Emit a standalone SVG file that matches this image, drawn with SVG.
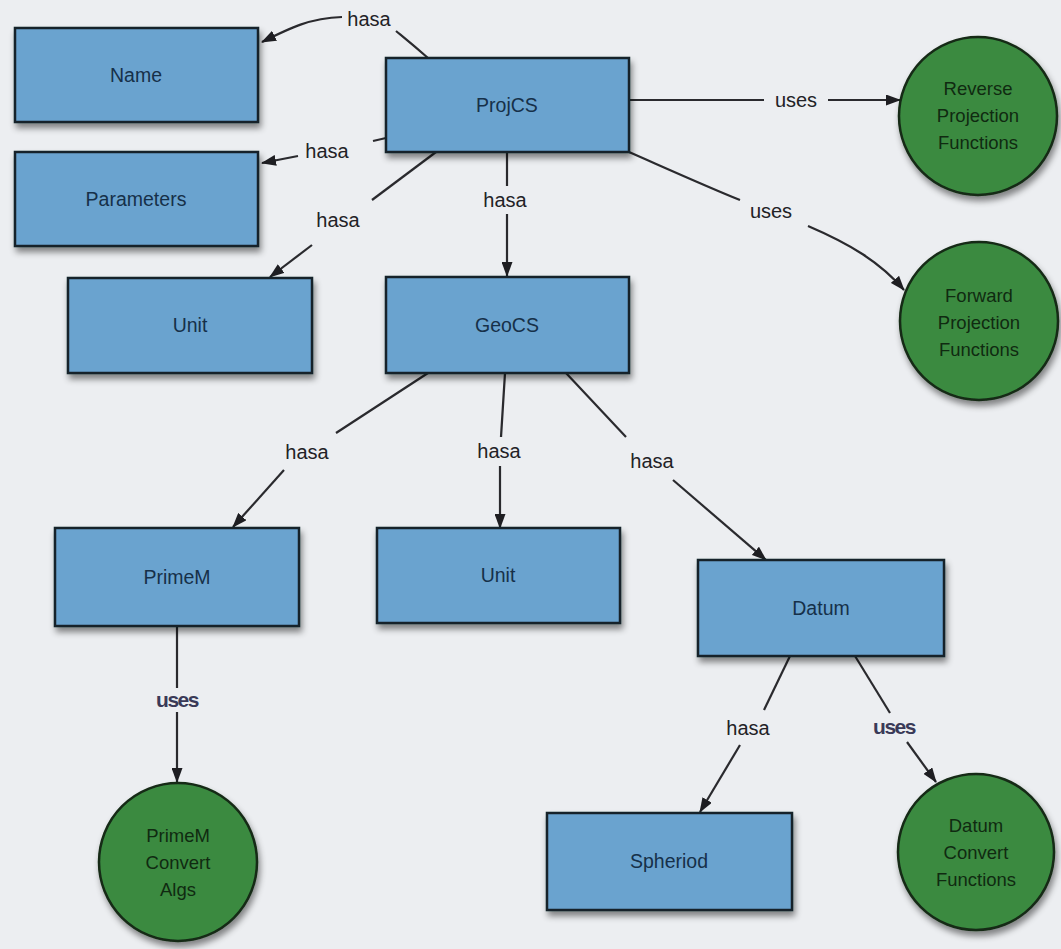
<svg xmlns="http://www.w3.org/2000/svg" width="1061" height="949" viewBox="0 0 1061 949">
  <defs>
    <filter id="shadow" x="-10%" y="-10%" width="125%" height="135%">
      <feDropShadow dx="2" dy="5" stdDeviation="3" flood-color="#000" flood-opacity="0.45"/>
    </filter>
    <marker id="arrow" viewBox="0 0 15 11" refX="14" refY="5.5" markerWidth="15" markerHeight="11" markerUnits="userSpaceOnUse" orient="auto">
      <path d="M0,0 L15,5.5 L0,11 Z" fill="#1e1e22"/>
    </marker>
  </defs>
  <style>
    .box { fill: #6aa3cf; stroke: #16202a; stroke-width: 2.5; filter: url(#shadow); }
    .circ { fill: #3a8a40; stroke: #152a16; stroke-width: 2.5; filter: url(#shadow); }
    .btxt { font-family: "Liberation Sans", Arial, sans-serif; font-size: 19.5px; fill: #163049; text-anchor: middle; dominant-baseline: central; }
    .ctxt { font-family: "Liberation Sans", Arial, sans-serif; font-size: 18.5px; fill: #102a11; text-anchor: middle; }
    .edge { fill: none; stroke: #2a2a2e; stroke-width: 2.2; }
    .lbl { font-family: "Liberation Sans", Arial, sans-serif; font-size: 20px; fill: #222226; text-anchor: middle; dominant-baseline: central; }
    .lblb { font-family: "Liberation Sans", Arial, sans-serif; font-size: 21px; font-weight: bold; fill: #3a3a58; text-anchor: middle; dominant-baseline: central; letter-spacing: -1.5px; }
  </style>

  <rect width="1061" height="949" fill="#eceef1"/>

  <!-- connectors -->
  <g id="connectors">
    <path class="edge" d="M428,58 C412,44 402,36 396,31"/>
    <path class="edge" marker-end="url(#arrow)" d="M342,17 C310,18 290,28 262,42"/>
    <path class="edge" d="M386,138 L373,141"/>
    <path class="edge" marker-end="url(#arrow)" d="M298,156 L262,163"/>
    <path class="edge" d="M436,152 L372,200"/>
    <path class="edge" marker-end="url(#arrow)" d="M312,245 L270,277"/>
    <path class="edge" d="M507,152 L507,186"/>
    <path class="edge" marker-end="url(#arrow)" d="M507,214 L507,276"/>
    <path class="edge" d="M629,100 L764,100"/>
    <path class="edge" marker-end="url(#arrow)" d="M828,100 L900,100"/>
    <path class="edge" d="M629,152 C670,170 710,188 740,200"/>
    <path class="edge" marker-end="url(#arrow)" d="M808,226 C850,244 880,262 904,290"/>
    <path class="edge" d="M428,373 L336,433"/>
    <path class="edge" marker-end="url(#arrow)" d="M284,470 L233,527"/>
    <path class="edge" d="M505,373 L501,437"/>
    <path class="edge" marker-end="url(#arrow)" d="M500,466 L500,528"/>
    <path class="edge" d="M566,373 L626,437"/>
    <path class="edge" marker-end="url(#arrow)" d="M673,480 L766,560"/>
    <path class="edge" marker-end="url(#arrow)" d="M177,626 L177,782"/>
    <path class="edge" d="M790,656 L764,710"/>
    <path class="edge" marker-end="url(#arrow)" d="M740,745 L700,812"/>
    <path class="edge" d="M855,656 L890,713"/>
    <path class="edge" marker-end="url(#arrow)" d="M907,742 L936,782"/>

    <text class="lbl" x="369" y="19">hasa</text>
    <text class="lbl" x="327" y="151">hasa</text>
    <text class="lbl" x="338" y="220">hasa</text>
    <text class="lbl" x="505" y="200">hasa</text>
    <text class="lbl" x="796" y="100">uses</text>
    <text class="lbl" x="771" y="211">uses</text>
    <text class="lbl" x="307" y="452">hasa</text>
    <text class="lbl" x="499" y="451">hasa</text>
    <text class="lbl" x="652" y="461">hasa</text>
    <rect x="150" y="688" width="54" height="24" fill="#eceef1"/>
    <text class="lblb" x="177" y="699">uses</text>
    <text class="lbl" x="748" y="728">hasa</text>
    <text class="lblb" x="894" y="726">uses</text>
  </g>

  <!-- rectangular nodes -->
  <g id="node-name"><rect class="box" x="15" y="28" width="243" height="94"/><text class="btxt" x="136" y="75">Name</text></g>
  <g id="node-parameters"><rect class="box" x="15" y="152" width="243" height="94"/><text class="btxt" x="136" y="199">Parameters</text></g>
  <g id="node-projcs"><rect class="box" x="386" y="58" width="243" height="94"/><text class="btxt" x="507" y="105">ProjCS</text></g>
  <g id="node-unit1"><rect class="box" x="68" y="278" width="244" height="95"/><text class="btxt" x="190" y="325">Unit</text></g>
  <g id="node-geocs"><rect class="box" x="386" y="277" width="243" height="96"/><text class="btxt" x="507" y="325">GeoCS</text></g>
  <g id="node-primem"><rect class="box" x="55" y="528" width="244" height="98"/><text class="btxt" x="177" y="577">PrimeM</text></g>
  <g id="node-unit2"><rect class="box" x="377" y="528" width="243" height="95"/><text class="btxt" x="498" y="575">Unit</text></g>
  <g id="node-datum"><rect class="box" x="698" y="560" width="246" height="96"/><text class="btxt" x="821" y="608">Datum</text></g>
  <g id="node-spheriod"><rect class="box" x="547" y="813" width="245" height="97"/><text class="btxt" x="669" y="861">Spheriod</text></g>

  <!-- circular nodes -->
  <g id="node-reverse"><circle class="circ" cx="978" cy="116" r="79"/>
    <text class="ctxt" x="978" y="95">Reverse</text><text class="ctxt" x="978" y="122">Projection</text><text class="ctxt" x="978" y="149">Functions</text></g>
  <g id="node-forward"><circle class="circ" cx="979" cy="321" r="79"/>
    <text class="ctxt" x="979" y="302">Forward</text><text class="ctxt" x="979" y="329">Projection</text><text class="ctxt" x="979" y="356">Functions</text></g>
  <g id="node-primem-algs"><circle class="circ" cx="178" cy="862" r="79"/>
    <text class="ctxt" x="178" y="842">PrimeM</text><text class="ctxt" x="178" y="869">Convert</text><text class="ctxt" x="178" y="896">Algs</text></g>
  <g id="node-datum-convert"><circle class="circ" cx="976" cy="852" r="78"/>
    <text class="ctxt" x="976" y="832">Datum</text><text class="ctxt" x="976" y="859">Convert</text><text class="ctxt" x="976" y="886">Functions</text></g>
</svg>
